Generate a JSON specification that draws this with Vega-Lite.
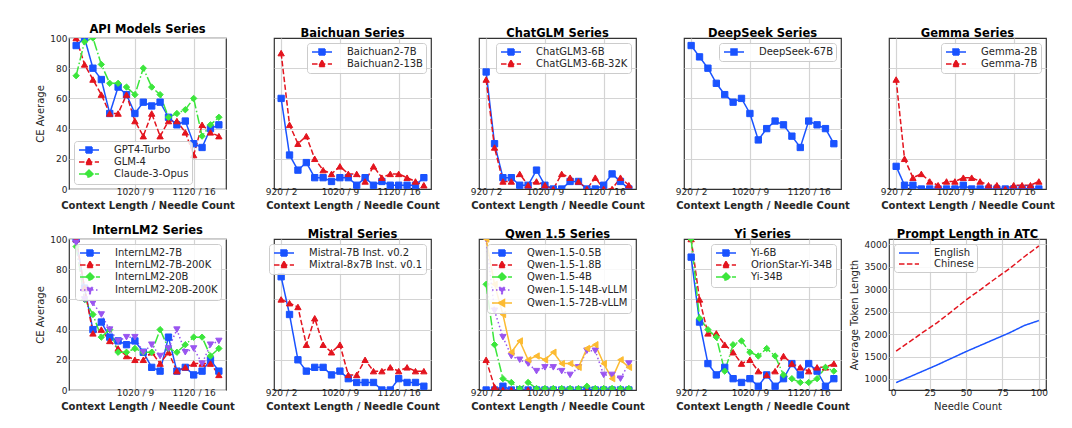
{
  "$schema": "https://vega.github.io/schema/vega-lite/v6.json",
  "padding": {"left": 34, "top": 22, "right": 5, "bottom": 5},
  "background": "white",
  "config": {
    "font": "DejaVu Sans",
    "view": {"stroke": "#333333", "strokeWidth": 1.2},
    "axis": {"domain": false, "ticks": false, "grid": true, "gridColor": "#d4d4d4", "gridWidth": 1.2, "labelFontSize": 9, "labelColor": "#262626", "labelPadding": 2, "labelFlush": false, "labelOverlap": false, "titleFontSize": 10, "titleColor": "#262626", "titleFontWeight": "normal"},
    "axisX": {"titleFontWeight": "bold", "titleFontSize": 10, "labelPadding": -1.5, "titlePadding": 3.5},
    "axisY": {"titlePadding": 4.5},
    "title": {"fontSize": 11.5, "fontWeight": "bold", "offset": -1, "color": "#000000"},
    "legend": {"labelFontSize": 10, "labelColor": "#262626", "padding": 3, "offset": 5, "rowPadding": -1.5, "symbolSize": 100, "symbolOffset": 6, "labelOffset": 19, "fillColor": "rgba(255,255,255,0.85)", "strokeColor": "#cccccc", "cornerRadius": 3}
  },
  "resolve": {"scale": {"stroke": "independent", "strokeDash": "independent"}, "legend": {"stroke": "independent", "strokeDash": "independent"}},
  "datasets": {
    "api": [
      {"s":"GPT4-Turbo","i":0,"v":95},{"s":"GPT4-Turbo","i":1,"v":100},{"s":"GPT4-Turbo","i":2,"v":80},{"s":"GPT4-Turbo","i":3,"v":72.5},{"s":"GPT4-Turbo","i":4,"v":50},{"s":"GPT4-Turbo","i":5,"v":67.5},{"s":"GPT4-Turbo","i":6,"v":62.5},{"s":"GPT4-Turbo","i":7,"v":50},{"s":"GPT4-Turbo","i":8,"v":57.5},{"s":"GPT4-Turbo","i":9,"v":55},{"s":"GPT4-Turbo","i":10,"v":57.5},{"s":"GPT4-Turbo","i":11,"v":47.5},{"s":"GPT4-Turbo","i":12,"v":42.5},{"s":"GPT4-Turbo","i":13,"v":45},{"s":"GPT4-Turbo","i":14,"v":30},{"s":"GPT4-Turbo","i":15,"v":27.5},{"s":"GPT4-Turbo","i":16,"v":40},{"s":"GPT4-Turbo","i":17,"v":42.5},
      {"s":"GLM-4","i":0,"v":100},{"s":"GLM-4","i":1,"v":82.5},{"s":"GLM-4","i":2,"v":72.5},{"s":"GLM-4","i":3,"v":62.5},{"s":"GLM-4","i":4,"v":50},{"s":"GLM-4","i":5,"v":50},{"s":"GLM-4","i":6,"v":62.5},{"s":"GLM-4","i":7,"v":45},{"s":"GLM-4","i":8,"v":35},{"s":"GLM-4","i":9,"v":50},{"s":"GLM-4","i":10,"v":35},{"s":"GLM-4","i":11,"v":45},{"s":"GLM-4","i":12,"v":45},{"s":"GLM-4","i":13,"v":37.5},{"s":"GLM-4","i":14,"v":22.5},{"s":"GLM-4","i":15,"v":42.5},{"s":"GLM-4","i":16,"v":37.5},{"s":"GLM-4","i":17,"v":35},
      {"s":"Claude-3-Opus","i":0,"v":75},{"s":"Claude-3-Opus","i":1,"v":97.5},{"s":"Claude-3-Opus","i":2,"v":100},{"s":"Claude-3-Opus","i":3,"v":82.5},{"s":"Claude-3-Opus","i":4,"v":70},{"s":"Claude-3-Opus","i":5,"v":70},{"s":"Claude-3-Opus","i":6,"v":67.5},{"s":"Claude-3-Opus","i":7,"v":62.5},{"s":"Claude-3-Opus","i":8,"v":80},{"s":"Claude-3-Opus","i":9,"v":67.5},{"s":"Claude-3-Opus","i":10,"v":62.5},{"s":"Claude-3-Opus","i":11,"v":47.5},{"s":"Claude-3-Opus","i":12,"v":50},{"s":"Claude-3-Opus","i":13,"v":52.5},{"s":"Claude-3-Opus","i":14,"v":60},{"s":"Claude-3-Opus","i":15,"v":35},{"s":"Claude-3-Opus","i":16,"v":42.5},{"s":"Claude-3-Opus","i":17,"v":47.5}
    ],
    "baichuan": [
      {"s":"Baichuan2-7B","i":0,"v":60},{"s":"Baichuan2-7B","i":1,"v":22.5},{"s":"Baichuan2-7B","i":2,"v":12.5},{"s":"Baichuan2-7B","i":3,"v":17.5},{"s":"Baichuan2-7B","i":4,"v":7.5},{"s":"Baichuan2-7B","i":5,"v":7.5},{"s":"Baichuan2-7B","i":6,"v":5},{"s":"Baichuan2-7B","i":7,"v":7.5},{"s":"Baichuan2-7B","i":8,"v":7.5},{"s":"Baichuan2-7B","i":9,"v":2.5},{"s":"Baichuan2-7B","i":10,"v":7.5},{"s":"Baichuan2-7B","i":11,"v":2.5},{"s":"Baichuan2-7B","i":12,"v":5},{"s":"Baichuan2-7B","i":13,"v":2.5},{"s":"Baichuan2-7B","i":14,"v":2.5},{"s":"Baichuan2-7B","i":15,"v":2.5},{"s":"Baichuan2-7B","i":16,"v":2.5},{"s":"Baichuan2-7B","i":17,"v":7.5},
      {"s":"Baichuan2-13B","i":0,"v":90},{"s":"Baichuan2-13B","i":1,"v":42.5},{"s":"Baichuan2-13B","i":2,"v":30},{"s":"Baichuan2-13B","i":3,"v":35},{"s":"Baichuan2-13B","i":4,"v":20},{"s":"Baichuan2-13B","i":5,"v":12.5},{"s":"Baichuan2-13B","i":6,"v":10},{"s":"Baichuan2-13B","i":7,"v":15},{"s":"Baichuan2-13B","i":8,"v":10},{"s":"Baichuan2-13B","i":9,"v":10},{"s":"Baichuan2-13B","i":10,"v":5},{"s":"Baichuan2-13B","i":11,"v":15},{"s":"Baichuan2-13B","i":12,"v":7.5},{"s":"Baichuan2-13B","i":13,"v":10},{"s":"Baichuan2-13B","i":14,"v":10},{"s":"Baichuan2-13B","i":15,"v":7.5},{"s":"Baichuan2-13B","i":16,"v":5},{"s":"Baichuan2-13B","i":17,"v":2.5}
    ],
    "chatglm": [
      {"s":"ChatGLM3-6B","i":0,"v":77.5},{"s":"ChatGLM3-6B","i":1,"v":30},{"s":"ChatGLM3-6B","i":2,"v":7.5},{"s":"ChatGLM3-6B","i":3,"v":7.5},{"s":"ChatGLM3-6B","i":4,"v":2.5},{"s":"ChatGLM3-6B","i":5,"v":2.5},{"s":"ChatGLM3-6B","i":6,"v":12.5},{"s":"ChatGLM3-6B","i":7,"v":2.5},{"s":"ChatGLM3-6B","i":8,"v":0},{"s":"ChatGLM3-6B","i":9,"v":0},{"s":"ChatGLM3-6B","i":10,"v":5},{"s":"ChatGLM3-6B","i":11,"v":5},{"s":"ChatGLM3-6B","i":12,"v":0},{"s":"ChatGLM3-6B","i":13,"v":0},{"s":"ChatGLM3-6B","i":14,"v":2.5},{"s":"ChatGLM3-6B","i":15,"v":10},{"s":"ChatGLM3-6B","i":16,"v":5},{"s":"ChatGLM3-6B","i":17,"v":0},
      {"s":"ChatGLM3-6B-32K","i":0,"v":72.5},{"s":"ChatGLM3-6B-32K","i":1,"v":27.5},{"s":"ChatGLM3-6B-32K","i":2,"v":5},{"s":"ChatGLM3-6B-32K","i":3,"v":5},{"s":"ChatGLM3-6B-32K","i":4,"v":10},{"s":"ChatGLM3-6B-32K","i":5,"v":2.5},{"s":"ChatGLM3-6B-32K","i":6,"v":5},{"s":"ChatGLM3-6B-32K","i":7,"v":2.5},{"s":"ChatGLM3-6B-32K","i":8,"v":0},{"s":"ChatGLM3-6B-32K","i":9,"v":10},{"s":"ChatGLM3-6B-32K","i":10,"v":7.5},{"s":"ChatGLM3-6B-32K","i":11,"v":5},{"s":"ChatGLM3-6B-32K","i":12,"v":0},{"s":"ChatGLM3-6B-32K","i":13,"v":7.5},{"s":"ChatGLM3-6B-32K","i":14,"v":0},{"s":"ChatGLM3-6B-32K","i":15,"v":0},{"s":"ChatGLM3-6B-32K","i":16,"v":7.5},{"s":"ChatGLM3-6B-32K","i":17,"v":2.5}
    ],
    "deepseek": [
      {"s":"DeepSeek-67B","i":0,"v":95},{"s":"DeepSeek-67B","i":1,"v":87.5},{"s":"DeepSeek-67B","i":2,"v":80},{"s":"DeepSeek-67B","i":3,"v":70},{"s":"DeepSeek-67B","i":4,"v":62.5},{"s":"DeepSeek-67B","i":5,"v":57.5},{"s":"DeepSeek-67B","i":6,"v":60},{"s":"DeepSeek-67B","i":7,"v":50},{"s":"DeepSeek-67B","i":8,"v":32.5},{"s":"DeepSeek-67B","i":9,"v":40},{"s":"DeepSeek-67B","i":10,"v":45},{"s":"DeepSeek-67B","i":11,"v":42.5},{"s":"DeepSeek-67B","i":12,"v":35},{"s":"DeepSeek-67B","i":13,"v":27.5},{"s":"DeepSeek-67B","i":14,"v":45},{"s":"DeepSeek-67B","i":15,"v":42.5},{"s":"DeepSeek-67B","i":16,"v":40},{"s":"DeepSeek-67B","i":17,"v":30}
    ],
    "gemma": [
      {"s":"Gemma-2B","i":0,"v":15},{"s":"Gemma-2B","i":1,"v":2.5},{"s":"Gemma-2B","i":2,"v":2.5},{"s":"Gemma-2B","i":3,"v":0},{"s":"Gemma-2B","i":4,"v":0},{"s":"Gemma-2B","i":5,"v":0},{"s":"Gemma-2B","i":6,"v":0},{"s":"Gemma-2B","i":7,"v":0},{"s":"Gemma-2B","i":8,"v":2.5},{"s":"Gemma-2B","i":9,"v":0},{"s":"Gemma-2B","i":10,"v":0},{"s":"Gemma-2B","i":11,"v":0},{"s":"Gemma-2B","i":12,"v":0},{"s":"Gemma-2B","i":13,"v":0},{"s":"Gemma-2B","i":14,"v":0},{"s":"Gemma-2B","i":15,"v":0},{"s":"Gemma-2B","i":16,"v":0},{"s":"Gemma-2B","i":17,"v":0},
      {"s":"Gemma-7B","i":0,"v":72.5},{"s":"Gemma-7B","i":1,"v":20},{"s":"Gemma-7B","i":2,"v":7.5},{"s":"Gemma-7B","i":3,"v":10},{"s":"Gemma-7B","i":4,"v":5},{"s":"Gemma-7B","i":5,"v":2.5},{"s":"Gemma-7B","i":6,"v":5},{"s":"Gemma-7B","i":7,"v":5},{"s":"Gemma-7B","i":8,"v":7.5},{"s":"Gemma-7B","i":9,"v":7.5},{"s":"Gemma-7B","i":10,"v":5},{"s":"Gemma-7B","i":11,"v":2.5},{"s":"Gemma-7B","i":12,"v":2.5},{"s":"Gemma-7B","i":13,"v":0},{"s":"Gemma-7B","i":14,"v":2.5},{"s":"Gemma-7B","i":15,"v":2.5},{"s":"Gemma-7B","i":16,"v":2.5},{"s":"Gemma-7B","i":17,"v":5}
    ],
    "intern": [
      {"s":"InternLM2-7B","i":0,"v":100},{"s":"InternLM2-7B","i":1,"v":67.5},{"s":"InternLM2-7B","i":2,"v":40},{"s":"InternLM2-7B","i":3,"v":45},{"s":"InternLM2-7B","i":4,"v":35},{"s":"InternLM2-7B","i":5,"v":32.5},{"s":"InternLM2-7B","i":6,"v":30},{"s":"InternLM2-7B","i":7,"v":32.5},{"s":"InternLM2-7B","i":8,"v":25},{"s":"InternLM2-7B","i":9,"v":15},{"s":"InternLM2-7B","i":10,"v":12.5},{"s":"InternLM2-7B","i":11,"v":35},{"s":"InternLM2-7B","i":12,"v":12.5},{"s":"InternLM2-7B","i":13,"v":15},{"s":"InternLM2-7B","i":14,"v":10},{"s":"InternLM2-7B","i":15,"v":12.5},{"s":"InternLM2-7B","i":16,"v":20},{"s":"InternLM2-7B","i":17,"v":12.5},
      {"s":"InternLM2-7B-200K","i":0,"v":100},{"s":"InternLM2-7B-200K","i":1,"v":67.5},{"s":"InternLM2-7B-200K","i":2,"v":37.5},{"s":"InternLM2-7B-200K","i":3,"v":40},{"s":"InternLM2-7B-200K","i":4,"v":32.5},{"s":"InternLM2-7B-200K","i":5,"v":27.5},{"s":"InternLM2-7B-200K","i":6,"v":22.5},{"s":"InternLM2-7B-200K","i":7,"v":20},{"s":"InternLM2-7B-200K","i":8,"v":20},{"s":"InternLM2-7B-200K","i":9,"v":25},{"s":"InternLM2-7B-200K","i":10,"v":17.5},{"s":"InternLM2-7B-200K","i":11,"v":25},{"s":"InternLM2-7B-200K","i":12,"v":12.5},{"s":"InternLM2-7B-200K","i":13,"v":15},{"s":"InternLM2-7B-200K","i":14,"v":17.5},{"s":"InternLM2-7B-200K","i":15,"v":17.5},{"s":"InternLM2-7B-200K","i":16,"v":17.5},{"s":"InternLM2-7B-200K","i":17,"v":10},
      {"s":"InternLM2-20B","i":0,"v":95},{"s":"InternLM2-20B","i":1,"v":60},{"s":"InternLM2-20B","i":2,"v":50},{"s":"InternLM2-20B","i":3,"v":35},{"s":"InternLM2-20B","i":4,"v":40},{"s":"InternLM2-20B","i":5,"v":25},{"s":"InternLM2-20B","i":6,"v":25},{"s":"InternLM2-20B","i":7,"v":27.5},{"s":"InternLM2-20B","i":8,"v":25},{"s":"InternLM2-20B","i":9,"v":25},{"s":"InternLM2-20B","i":10,"v":40},{"s":"InternLM2-20B","i":11,"v":27.5},{"s":"InternLM2-20B","i":12,"v":25},{"s":"InternLM2-20B","i":13,"v":30},{"s":"InternLM2-20B","i":14,"v":35},{"s":"InternLM2-20B","i":15,"v":35},{"s":"InternLM2-20B","i":16,"v":22.5},{"s":"InternLM2-20B","i":17,"v":27.5},
      {"s":"InternLM2-20B-200K","i":0,"v":97.5},{"s":"InternLM2-20B-200K","i":1,"v":60},{"s":"InternLM2-20B-200K","i":2,"v":57.5},{"s":"InternLM2-20B-200K","i":3,"v":50},{"s":"InternLM2-20B-200K","i":4,"v":40},{"s":"InternLM2-20B-200K","i":5,"v":32.5},{"s":"InternLM2-20B-200K","i":6,"v":35},{"s":"InternLM2-20B-200K","i":7,"v":35},{"s":"InternLM2-20B-200K","i":8,"v":25},{"s":"InternLM2-20B-200K","i":9,"v":30},{"s":"InternLM2-20B-200K","i":10,"v":22.5},{"s":"InternLM2-20B-200K","i":11,"v":27.5},{"s":"InternLM2-20B-200K","i":12,"v":40},{"s":"InternLM2-20B-200K","i":13,"v":25},{"s":"InternLM2-20B-200K","i":14,"v":27.5},{"s":"InternLM2-20B-200K","i":15,"v":17.5},{"s":"InternLM2-20B-200K","i":16,"v":30},{"s":"InternLM2-20B-200K","i":17,"v":32.5}
    ],
    "mistral": [
      {"s":"Mistral-7B Inst. v0.2","i":0,"v":75},{"s":"Mistral-7B Inst. v0.2","i":1,"v":50},{"s":"Mistral-7B Inst. v0.2","i":2,"v":20},{"s":"Mistral-7B Inst. v0.2","i":3,"v":12.5},{"s":"Mistral-7B Inst. v0.2","i":4,"v":15},{"s":"Mistral-7B Inst. v0.2","i":5,"v":15},{"s":"Mistral-7B Inst. v0.2","i":6,"v":10},{"s":"Mistral-7B Inst. v0.2","i":7,"v":12.5},{"s":"Mistral-7B Inst. v0.2","i":8,"v":7.5},{"s":"Mistral-7B Inst. v0.2","i":9,"v":5},{"s":"Mistral-7B Inst. v0.2","i":10,"v":5},{"s":"Mistral-7B Inst. v0.2","i":11,"v":5},{"s":"Mistral-7B Inst. v0.2","i":12,"v":0},{"s":"Mistral-7B Inst. v0.2","i":13,"v":0},{"s":"Mistral-7B Inst. v0.2","i":14,"v":7.5},{"s":"Mistral-7B Inst. v0.2","i":15,"v":5},{"s":"Mistral-7B Inst. v0.2","i":16,"v":5},{"s":"Mistral-7B Inst. v0.2","i":17,"v":2.5},
      {"s":"Mixtral-8x7B Inst. v0.1","i":0,"v":60},{"s":"Mixtral-8x7B Inst. v0.1","i":1,"v":57.5},{"s":"Mixtral-8x7B Inst. v0.1","i":2,"v":55},{"s":"Mixtral-8x7B Inst. v0.1","i":3,"v":30},{"s":"Mixtral-8x7B Inst. v0.1","i":4,"v":47.5},{"s":"Mixtral-8x7B Inst. v0.1","i":5,"v":30},{"s":"Mixtral-8x7B Inst. v0.1","i":6,"v":25},{"s":"Mixtral-8x7B Inst. v0.1","i":7,"v":30},{"s":"Mixtral-8x7B Inst. v0.1","i":8,"v":10},{"s":"Mixtral-8x7B Inst. v0.1","i":9,"v":10},{"s":"Mixtral-8x7B Inst. v0.1","i":10,"v":20},{"s":"Mixtral-8x7B Inst. v0.1","i":11,"v":12.5},{"s":"Mixtral-8x7B Inst. v0.1","i":12,"v":12.5},{"s":"Mixtral-8x7B Inst. v0.1","i":13,"v":15},{"s":"Mixtral-8x7B Inst. v0.1","i":14,"v":12.5},{"s":"Mixtral-8x7B Inst. v0.1","i":15,"v":15},{"s":"Mixtral-8x7B Inst. v0.1","i":16,"v":12.5},{"s":"Mixtral-8x7B Inst. v0.1","i":17,"v":12.5}
    ],
    "qwen": [
      {"s":"Qwen-1.5-0.5B","i":0,"v":0},{"s":"Qwen-1.5-0.5B","i":1,"v":0},{"s":"Qwen-1.5-0.5B","i":2,"v":2.5},{"s":"Qwen-1.5-0.5B","i":3,"v":0},{"s":"Qwen-1.5-0.5B","i":4,"v":0},{"s":"Qwen-1.5-0.5B","i":5,"v":0},{"s":"Qwen-1.5-0.5B","i":6,"v":0},{"s":"Qwen-1.5-0.5B","i":7,"v":0},{"s":"Qwen-1.5-0.5B","i":8,"v":0},{"s":"Qwen-1.5-0.5B","i":9,"v":0},{"s":"Qwen-1.5-0.5B","i":10,"v":0},{"s":"Qwen-1.5-0.5B","i":11,"v":0},{"s":"Qwen-1.5-0.5B","i":12,"v":0},{"s":"Qwen-1.5-0.5B","i":13,"v":0},{"s":"Qwen-1.5-0.5B","i":14,"v":0},{"s":"Qwen-1.5-0.5B","i":15,"v":0},{"s":"Qwen-1.5-0.5B","i":16,"v":0},{"s":"Qwen-1.5-0.5B","i":17,"v":0},
      {"s":"Qwen-1.5-1.8B","i":0,"v":20},{"s":"Qwen-1.5-1.8B","i":1,"v":2},{"s":"Qwen-1.5-1.8B","i":2,"v":0},{"s":"Qwen-1.5-1.8B","i":3,"v":0},{"s":"Qwen-1.5-1.8B","i":4,"v":0},{"s":"Qwen-1.5-1.8B","i":5,"v":0},{"s":"Qwen-1.5-1.8B","i":6,"v":0},{"s":"Qwen-1.5-1.8B","i":7,"v":0},{"s":"Qwen-1.5-1.8B","i":8,"v":0},{"s":"Qwen-1.5-1.8B","i":9,"v":0},{"s":"Qwen-1.5-1.8B","i":10,"v":0},{"s":"Qwen-1.5-1.8B","i":11,"v":0},{"s":"Qwen-1.5-1.8B","i":12,"v":0},{"s":"Qwen-1.5-1.8B","i":13,"v":0},{"s":"Qwen-1.5-1.8B","i":14,"v":0},{"s":"Qwen-1.5-1.8B","i":15,"v":0},{"s":"Qwen-1.5-1.8B","i":16,"v":0},{"s":"Qwen-1.5-1.8B","i":17,"v":0},
      {"s":"Qwen-1.5-4B","i":0,"v":70},{"s":"Qwen-1.5-4B","i":1,"v":30},{"s":"Qwen-1.5-4B","i":2,"v":7.5},{"s":"Qwen-1.5-4B","i":3,"v":5},{"s":"Qwen-1.5-4B","i":4,"v":1},{"s":"Qwen-1.5-4B","i":5,"v":5},{"s":"Qwen-1.5-4B","i":6,"v":1},{"s":"Qwen-1.5-4B","i":7,"v":1},{"s":"Qwen-1.5-4B","i":8,"v":1},{"s":"Qwen-1.5-4B","i":9,"v":1},{"s":"Qwen-1.5-4B","i":10,"v":1},{"s":"Qwen-1.5-4B","i":11,"v":1},{"s":"Qwen-1.5-4B","i":12,"v":2.5},{"s":"Qwen-1.5-4B","i":13,"v":1},{"s":"Qwen-1.5-4B","i":14,"v":1},{"s":"Qwen-1.5-4B","i":15,"v":1},{"s":"Qwen-1.5-4B","i":16,"v":1},{"s":"Qwen-1.5-4B","i":17,"v":1},
      {"s":"Qwen-1.5-14B-vLLM","i":0,"v":100},{"s":"Qwen-1.5-14B-vLLM","i":1,"v":52.5},{"s":"Qwen-1.5-14B-vLLM","i":2,"v":35},{"s":"Qwen-1.5-14B-vLLM","i":3,"v":22.5},{"s":"Qwen-1.5-14B-vLLM","i":4,"v":20},{"s":"Qwen-1.5-14B-vLLM","i":5,"v":17.5},{"s":"Qwen-1.5-14B-vLLM","i":6,"v":12.5},{"s":"Qwen-1.5-14B-vLLM","i":7,"v":15},{"s":"Qwen-1.5-14B-vLLM","i":8,"v":15},{"s":"Qwen-1.5-14B-vLLM","i":9,"v":12.5},{"s":"Qwen-1.5-14B-vLLM","i":10,"v":10},{"s":"Qwen-1.5-14B-vLLM","i":11,"v":15},{"s":"Qwen-1.5-14B-vLLM","i":12,"v":26},{"s":"Qwen-1.5-14B-vLLM","i":13,"v":26},{"s":"Qwen-1.5-14B-vLLM","i":14,"v":10},{"s":"Qwen-1.5-14B-vLLM","i":15,"v":10},{"s":"Qwen-1.5-14B-vLLM","i":16,"v":7.5},{"s":"Qwen-1.5-14B-vLLM","i":17,"v":17.5},
      {"s":"Qwen-1.5-72B-vLLM","i":0,"v":100},{"s":"Qwen-1.5-72B-vLLM","i":1,"v":70},{"s":"Qwen-1.5-72B-vLLM","i":2,"v":50},{"s":"Qwen-1.5-72B-vLLM","i":3,"v":25},{"s":"Qwen-1.5-72B-vLLM","i":4,"v":32.5},{"s":"Qwen-1.5-72B-vLLM","i":5,"v":20},{"s":"Qwen-1.5-72B-vLLM","i":6,"v":22.5},{"s":"Qwen-1.5-72B-vLLM","i":7,"v":20},{"s":"Qwen-1.5-72B-vLLM","i":8,"v":25},{"s":"Qwen-1.5-72B-vLLM","i":9,"v":17.5},{"s":"Qwen-1.5-72B-vLLM","i":10,"v":17.5},{"s":"Qwen-1.5-72B-vLLM","i":11,"v":15},{"s":"Qwen-1.5-72B-vLLM","i":12,"v":27.5},{"s":"Qwen-1.5-72B-vLLM","i":13,"v":30},{"s":"Qwen-1.5-72B-vLLM","i":14,"v":17.5},{"s":"Qwen-1.5-72B-vLLM","i":15,"v":7.5},{"s":"Qwen-1.5-72B-vLLM","i":16,"v":20},{"s":"Qwen-1.5-72B-vLLM","i":17,"v":15}
    ],
    "yi": [
      {"s":"Yi-6B","i":0,"v":88},{"s":"Yi-6B","i":1,"v":45},{"s":"Yi-6B","i":2,"v":17.5},{"s":"Yi-6B","i":3,"v":10},{"s":"Yi-6B","i":4,"v":15},{"s":"Yi-6B","i":5,"v":7.5},{"s":"Yi-6B","i":6,"v":5},{"s":"Yi-6B","i":7,"v":7.5},{"s":"Yi-6B","i":8,"v":2.5},{"s":"Yi-6B","i":9,"v":10},{"s":"Yi-6B","i":10,"v":2.5},{"s":"Yi-6B","i":11,"v":7.5},{"s":"Yi-6B","i":12,"v":17.5},{"s":"Yi-6B","i":13,"v":10},{"s":"Yi-6B","i":14,"v":17.5},{"s":"Yi-6B","i":15,"v":12.5},{"s":"Yi-6B","i":16,"v":2.5},{"s":"Yi-6B","i":17,"v":7.5},
      {"s":"OrionStar-Yi-34B","i":0,"v":100},{"s":"OrionStar-Yi-34B","i":1,"v":60},{"s":"OrionStar-Yi-34B","i":2,"v":37.5},{"s":"OrionStar-Yi-34B","i":3,"v":37.5},{"s":"OrionStar-Yi-34B","i":4,"v":30},{"s":"OrionStar-Yi-34B","i":5,"v":25},{"s":"OrionStar-Yi-34B","i":6,"v":17.5},{"s":"OrionStar-Yi-34B","i":7,"v":20},{"s":"OrionStar-Yi-34B","i":8,"v":12.5},{"s":"OrionStar-Yi-34B","i":9,"v":10},{"s":"OrionStar-Yi-34B","i":10,"v":12.5},{"s":"OrionStar-Yi-34B","i":11,"v":22.5},{"s":"OrionStar-Yi-34B","i":12,"v":17.5},{"s":"OrionStar-Yi-34B","i":13,"v":15},{"s":"OrionStar-Yi-34B","i":14,"v":12.5},{"s":"OrionStar-Yi-34B","i":15,"v":15},{"s":"OrionStar-Yi-34B","i":16,"v":15},{"s":"OrionStar-Yi-34B","i":17,"v":17.5},
      {"s":"Yi-34B","i":0,"v":100},{"s":"Yi-34B","i":1,"v":47.5},{"s":"Yi-34B","i":2,"v":40},{"s":"Yi-34B","i":3,"v":35},{"s":"Yi-34B","i":4,"v":12.5},{"s":"Yi-34B","i":5,"v":30},{"s":"Yi-34B","i":6,"v":32.5},{"s":"Yi-34B","i":7,"v":25},{"s":"Yi-34B","i":8,"v":22.5},{"s":"Yi-34B","i":9,"v":27.5},{"s":"Yi-34B","i":10,"v":22.5},{"s":"Yi-34B","i":11,"v":10},{"s":"Yi-34B","i":12,"v":7.5},{"s":"Yi-34B","i":13,"v":5},{"s":"Yi-34B","i":14,"v":5},{"s":"Yi-34B","i":15,"v":7.5},{"s":"Yi-34B","i":16,"v":15},{"s":"Yi-34B","i":17,"v":12.5}
    ],
    "prompt": [
      {"s":"English","n":2,"t":920},{"s":"English","n":10,"t":1030},{"s":"English","n":20,"t":1170},{"s":"English","n":30,"t":1310},{"s":"English","n":40,"t":1460},{"s":"English","n":50,"t":1610},{"s":"English","n":60,"t":1750},{"s":"English","n":70,"t":1890},{"s":"English","n":80,"t":2030},{"s":"English","n":90,"t":2190},{"s":"English","n":100,"t":2300},
      {"s":"Chinese","n":2,"t":1620},{"s":"Chinese","n":10,"t":1800},{"s":"Chinese","n":20,"t":2030},{"s":"Chinese","n":30,"t":2250},{"s":"Chinese","n":40,"t":2500},{"s":"Chinese","n":50,"t":2760},{"s":"Chinese","n":60,"t":2990},{"s":"Chinese","n":70,"t":3230},{"s":"Chinese","n":80,"t":3460},{"s":"Chinese","n":90,"t":3720},{"s":"Chinese","n":100,"t":3960}
    ]
  },
  "columns": 5,
  "bounds": "flush",
  "spacing": {"row": 50, "column": 48},
  "concat": [
    {
      "title": "API Models Series", "width": 157, "height": 151, "data": {"name": "api"},
      "encoding": {
        "x": {"field": "i", "type": "quantitative", "scale": {"domain": [-0.85, 17.85], "nice": false, "zero": false}, "axis": {"values": [7, 14], "labelExpr": "datum.value == 0 ? '920 / 2' : datum.value == 7 ? '1020 / 9' : '1120 / 16'", "title": "Context Length / Needle Count"}},
        "y": {"field": "v", "type": "quantitative", "scale": {"domain": [0, 100], "nice": false}, "axis": {"values": [0, 20, 40, 60, 80, 100], "title": "CE Average"}}
      },
      "layer": [
        {"mark": {"type": "line", "strokeWidth": 1.5, "clip": true},
         "encoding": {
           "stroke": {"field": "s", "type": "nominal", "scale": {"domain": ["GPT4-Turbo", "GLM-4", "Claude-3-Opus"], "range": ["#1a53ff", "#e3141e", "#3ce63c"]},
             "legend": {"orient": "bottom-left", "title": null, "encode": {"symbols": {"update": {
               "shape": {"signal": "['M-2,0H2M-0.6,-0.6H0.6V0.6H-0.6Z','M-2,0H2M0,-0.75L0.7,0.5H-0.7Z','M-2,0H2M0,-0.8L0.8,0L0,0.8L-0.8,0Z','M-2,0H2M0,0.75L0.7,-0.5H-0.7Z','M-2,0H2M-0.75,0L0.5,-0.7V0.7Z'][datum.index]"},
               "fill": {"signal": "['#1a53ff','#e3141e','#3ce63c','#9a55f0','#fcbb32'][datum.index]"},
               "stroke": {"signal": "['#1a53ff','#e3141e','#3ce63c','#9a55f0','#fcbb32'][datum.index]"},
               "strokeDash": {"signal": "[[1,0],[4,2],[6,1.6,1,1.6],[1.2,1.8],[1,0]][datum.index]"},
               "strokeWidth": {"value": 1.5}, "opacity": {"value": 1}}}}}},
           "strokeDash": {"field": "s", "type": "nominal", "scale": {"domain": ["GPT4-Turbo", "GLM-4", "Claude-3-Opus"], "range": [[1, 0], [5.5, 2.4], [9.6, 2.4, 1.5, 2.4]]}}
         }},
        {"transform": [{"filter": "datum.s == 'GPT4-Turbo'"}], "mark": {"type": "point", "shape": "square", "filled": true, "color": "#1a53ff", "stroke": "#1a53ff", "size": 40, "opacity": 1, "strokeWidth": 1, "clip": true}},
        {"transform": [{"filter": "datum.s == 'GLM-4'"}], "mark": {"type": "point", "shape": "triangle-up", "filled": true, "color": "#e3141e", "stroke": "#e3141e", "size": 40, "opacity": 1, "strokeWidth": 1, "clip": true}},
        {"transform": [{"filter": "datum.s == 'Claude-3-Opus'"}], "mark": {"type": "point", "shape": "diamond", "filled": true, "color": "#3ce63c", "stroke": "#3ce63c", "size": 40, "opacity": 1, "strokeWidth": 1, "clip": true}}
      ]
    },
    {
      "title": "Baichuan Series", "width": 157, "height": 151, "data": {"name": "baichuan"},
      "encoding": {
        "x": {"field": "i", "type": "quantitative", "scale": {"domain": [-0.85, 17.85], "nice": false, "zero": false}, "axis": {"values": [0, 7, 14], "labelExpr": "datum.value == 0 ? '920 / 2' : datum.value == 7 ? '1020 / 9' : '1120 / 16'", "title": "Context Length / Needle Count"}},
        "y": {"field": "v", "type": "quantitative", "scale": {"domain": [0, 100], "nice": false}, "axis": {"values": [20, 40, 60, 80], "labels": false, "title": null}}
      },
      "layer": [
        {"mark": {"type": "line", "strokeWidth": 1.5, "clip": true},
         "encoding": {
           "stroke": {"field": "s", "type": "nominal", "scale": {"domain": ["Baichuan2-7B", "Baichuan2-13B"], "range": ["#1a53ff", "#e3141e"]},
             "legend": {"orient": "top-right", "title": null, "encode": {"symbols": {"update": {
               "shape": {"signal": "['M-2,0H2M-0.6,-0.6H0.6V0.6H-0.6Z','M-2,0H2M0,-0.75L0.7,0.5H-0.7Z','M-2,0H2M0,-0.8L0.8,0L0,0.8L-0.8,0Z','M-2,0H2M0,0.75L0.7,-0.5H-0.7Z','M-2,0H2M-0.75,0L0.5,-0.7V0.7Z'][datum.index]"},
               "fill": {"signal": "['#1a53ff','#e3141e','#3ce63c','#9a55f0','#fcbb32'][datum.index]"},
               "stroke": {"signal": "['#1a53ff','#e3141e','#3ce63c','#9a55f0','#fcbb32'][datum.index]"},
               "strokeDash": {"signal": "[[1,0],[4,2],[6,1.6,1,1.6],[1.2,1.8],[1,0]][datum.index]"},
               "strokeWidth": {"value": 1.5}, "opacity": {"value": 1}}}}}},
           "strokeDash": {"field": "s", "type": "nominal", "scale": {"domain": ["Baichuan2-7B", "Baichuan2-13B"], "range": [[1, 0], [5.5, 2.4]]}}
         }},
        {"transform": [{"filter": "datum.s == 'Baichuan2-7B'"}], "mark": {"type": "point", "shape": "square", "filled": true, "color": "#1a53ff", "stroke": "#1a53ff", "size": 40, "opacity": 1, "strokeWidth": 1, "clip": true}},
        {"transform": [{"filter": "datum.s == 'Baichuan2-13B'"}], "mark": {"type": "point", "shape": "triangle-up", "filled": true, "color": "#e3141e", "stroke": "#e3141e", "size": 40, "opacity": 1, "strokeWidth": 1, "clip": true}}
      ]
    },
    {
      "title": "ChatGLM Series", "width": 157, "height": 151, "data": {"name": "chatglm"},
      "encoding": {
        "x": {"field": "i", "type": "quantitative", "scale": {"domain": [-0.85, 17.85], "nice": false, "zero": false}, "axis": {"values": [0, 7, 14], "labelExpr": "datum.value == 0 ? '920 / 2' : datum.value == 7 ? '1020 / 9' : '1120 / 16'", "title": "Context Length / Needle Count"}},
        "y": {"field": "v", "type": "quantitative", "scale": {"domain": [0, 100], "nice": false}, "axis": {"values": [20, 40, 60, 80], "labels": false, "title": null}}
      },
      "layer": [
        {"mark": {"type": "line", "strokeWidth": 1.5, "clip": true},
         "encoding": {
           "stroke": {"field": "s", "type": "nominal", "scale": {"domain": ["ChatGLM3-6B", "ChatGLM3-6B-32K"], "range": ["#1a53ff", "#e3141e"]},
             "legend": {"orient": "top-right", "title": null, "encode": {"symbols": {"update": {
               "shape": {"signal": "['M-2,0H2M-0.6,-0.6H0.6V0.6H-0.6Z','M-2,0H2M0,-0.75L0.7,0.5H-0.7Z','M-2,0H2M0,-0.8L0.8,0L0,0.8L-0.8,0Z','M-2,0H2M0,0.75L0.7,-0.5H-0.7Z','M-2,0H2M-0.75,0L0.5,-0.7V0.7Z'][datum.index]"},
               "fill": {"signal": "['#1a53ff','#e3141e','#3ce63c','#9a55f0','#fcbb32'][datum.index]"},
               "stroke": {"signal": "['#1a53ff','#e3141e','#3ce63c','#9a55f0','#fcbb32'][datum.index]"},
               "strokeDash": {"signal": "[[1,0],[4,2],[6,1.6,1,1.6],[1.2,1.8],[1,0]][datum.index]"},
               "strokeWidth": {"value": 1.5}, "opacity": {"value": 1}}}}}},
           "strokeDash": {"field": "s", "type": "nominal", "scale": {"domain": ["ChatGLM3-6B", "ChatGLM3-6B-32K"], "range": [[1, 0], [5.5, 2.4]]}}
         }},
        {"transform": [{"filter": "datum.s == 'ChatGLM3-6B'"}], "mark": {"type": "point", "shape": "square", "filled": true, "color": "#1a53ff", "stroke": "#1a53ff", "size": 40, "opacity": 1, "strokeWidth": 1, "clip": true}},
        {"transform": [{"filter": "datum.s == 'ChatGLM3-6B-32K'"}], "mark": {"type": "point", "shape": "triangle-up", "filled": true, "color": "#e3141e", "stroke": "#e3141e", "size": 40, "opacity": 1, "strokeWidth": 1, "clip": true}}
      ]
    },
    {
      "title": "DeepSeek Series", "width": 157, "height": 151, "data": {"name": "deepseek"},
      "encoding": {
        "x": {"field": "i", "type": "quantitative", "scale": {"domain": [-0.85, 17.85], "nice": false, "zero": false}, "axis": {"values": [0, 7, 14], "labelExpr": "datum.value == 0 ? '920 / 2' : datum.value == 7 ? '1020 / 9' : '1120 / 16'", "title": "Context Length / Needle Count"}},
        "y": {"field": "v", "type": "quantitative", "scale": {"domain": [0, 100], "nice": false}, "axis": {"values": [20, 40, 60, 80], "labels": false, "title": null}}
      },
      "layer": [
        {"mark": {"type": "line", "strokeWidth": 1.5, "clip": true},
         "encoding": {
           "stroke": {"field": "s", "type": "nominal", "scale": {"domain": ["DeepSeek-67B"], "range": ["#1a53ff"]},
             "legend": {"orient": "top-right", "title": null, "encode": {"symbols": {"update": {
               "shape": {"signal": "['M-2,0H2M-0.6,-0.6H0.6V0.6H-0.6Z','M-2,0H2M0,-0.75L0.7,0.5H-0.7Z'][datum.index]"},
               "fill": {"signal": "['#1a53ff','#e3141e'][datum.index]"},
               "stroke": {"signal": "['#1a53ff','#e3141e'][datum.index]"},
               "strokeWidth": {"value": 1.5}, "opacity": {"value": 1}}}}}}
         }},
        {"transform": [{"filter": "datum.s == 'DeepSeek-67B'"}], "mark": {"type": "point", "shape": "square", "filled": true, "color": "#1a53ff", "stroke": "#1a53ff", "size": 40, "opacity": 1, "strokeWidth": 1, "clip": true}}
      ]
    },
    {
      "title": "Gemma Series", "width": 157, "height": 151, "data": {"name": "gemma"},
      "encoding": {
        "x": {"field": "i", "type": "quantitative", "scale": {"domain": [-0.85, 17.85], "nice": false, "zero": false}, "axis": {"values": [0, 7, 14], "labelExpr": "datum.value == 0 ? '920 / 2' : datum.value == 7 ? '1020 / 9' : '1120 / 16'", "title": "Context Length / Needle Count"}},
        "y": {"field": "v", "type": "quantitative", "scale": {"domain": [0, 100], "nice": false}, "axis": {"values": [20, 40, 60, 80], "labels": false, "title": null}}
      },
      "layer": [
        {"mark": {"type": "line", "strokeWidth": 1.5, "clip": true},
         "encoding": {
           "stroke": {"field": "s", "type": "nominal", "scale": {"domain": ["Gemma-2B", "Gemma-7B"], "range": ["#1a53ff", "#e3141e"]},
             "legend": {"orient": "top-right", "title": null, "encode": {"symbols": {"update": {
               "shape": {"signal": "['M-2,0H2M-0.6,-0.6H0.6V0.6H-0.6Z','M-2,0H2M0,-0.75L0.7,0.5H-0.7Z','M-2,0H2M0,-0.8L0.8,0L0,0.8L-0.8,0Z','M-2,0H2M0,0.75L0.7,-0.5H-0.7Z','M-2,0H2M-0.75,0L0.5,-0.7V0.7Z'][datum.index]"},
               "fill": {"signal": "['#1a53ff','#e3141e','#3ce63c','#9a55f0','#fcbb32'][datum.index]"},
               "stroke": {"signal": "['#1a53ff','#e3141e','#3ce63c','#9a55f0','#fcbb32'][datum.index]"},
               "strokeDash": {"signal": "[[1,0],[4,2],[6,1.6,1,1.6],[1.2,1.8],[1,0]][datum.index]"},
               "strokeWidth": {"value": 1.5}, "opacity": {"value": 1}}}}}},
           "strokeDash": {"field": "s", "type": "nominal", "scale": {"domain": ["Gemma-2B", "Gemma-7B"], "range": [[1, 0], [5.5, 2.4]]}}
         }},
        {"transform": [{"filter": "datum.s == 'Gemma-2B'"}], "mark": {"type": "point", "shape": "square", "filled": true, "color": "#1a53ff", "stroke": "#1a53ff", "size": 40, "opacity": 1, "strokeWidth": 1, "clip": true}},
        {"transform": [{"filter": "datum.s == 'Gemma-7B'"}], "mark": {"type": "point", "shape": "triangle-up", "filled": true, "color": "#e3141e", "stroke": "#e3141e", "size": 40, "opacity": 1, "strokeWidth": 1, "clip": true}}
      ]
    },
    {
      "title": "InternLM2 Series", "width": 157, "height": 151, "data": {"name": "intern"},
      "encoding": {
        "x": {"field": "i", "type": "quantitative", "scale": {"domain": [-0.85, 17.85], "nice": false, "zero": false}, "axis": {"values": [7, 14], "labelExpr": "datum.value == 0 ? '920 / 2' : datum.value == 7 ? '1020 / 9' : '1120 / 16'", "title": "Context Length / Needle Count"}},
        "y": {"field": "v", "type": "quantitative", "scale": {"domain": [0, 100], "nice": false}, "axis": {"values": [0, 20, 40, 60, 80, 100], "title": "CE Average"}}
      },
      "layer": [
        {"mark": {"type": "line", "strokeWidth": 1.5, "clip": true},
         "encoding": {
           "stroke": {"field": "s", "type": "nominal", "scale": {"domain": ["InternLM2-7B", "InternLM2-7B-200K", "InternLM2-20B", "InternLM2-20B-200K"], "range": ["#1a53ff", "#e3141e", "#3ce63c", "#9a55f0"]},
             "legend": {"orient": "top-right", "title": null, "encode": {"symbols": {"update": {
               "shape": {"signal": "['M-2,0H2M-0.6,-0.6H0.6V0.6H-0.6Z','M-2,0H2M0,-0.75L0.7,0.5H-0.7Z','M-2,0H2M0,-0.8L0.8,0L0,0.8L-0.8,0Z','M-2,0H2M0,0.75L0.7,-0.5H-0.7Z','M-2,0H2M-0.75,0L0.5,-0.7V0.7Z'][datum.index]"},
               "fill": {"signal": "['#1a53ff','#e3141e','#3ce63c','#9a55f0','#fcbb32'][datum.index]"},
               "stroke": {"signal": "['#1a53ff','#e3141e','#3ce63c','#9a55f0','#fcbb32'][datum.index]"},
               "strokeDash": {"signal": "[[1,0],[4,2],[6,1.6,1,1.6],[1.2,1.8],[1,0]][datum.index]"},
               "strokeWidth": {"value": 1.5}, "opacity": {"value": 1}}}}}},
           "strokeDash": {"field": "s", "type": "nominal", "scale": {"domain": ["InternLM2-7B", "InternLM2-7B-200K", "InternLM2-20B", "InternLM2-20B-200K"], "range": [[1, 0], [5.5, 2.4], [9.6, 2.4, 1.5, 2.4], [1.5, 2.5]]}}
         }},
        {"transform": [{"filter": "datum.s == 'InternLM2-7B'"}], "mark": {"type": "point", "shape": "square", "filled": true, "color": "#1a53ff", "stroke": "#1a53ff", "size": 40, "opacity": 1, "strokeWidth": 1, "clip": true}},
        {"transform": [{"filter": "datum.s == 'InternLM2-7B-200K'"}], "mark": {"type": "point", "shape": "triangle-up", "filled": true, "color": "#e3141e", "stroke": "#e3141e", "size": 40, "opacity": 1, "strokeWidth": 1, "clip": true}},
        {"transform": [{"filter": "datum.s == 'InternLM2-20B'"}], "mark": {"type": "point", "shape": "diamond", "filled": true, "color": "#3ce63c", "stroke": "#3ce63c", "size": 40, "opacity": 1, "strokeWidth": 1, "clip": true}},
        {"transform": [{"filter": "datum.s == 'InternLM2-20B-200K'"}], "mark": {"type": "point", "shape": "triangle-down", "filled": true, "color": "#9a55f0", "stroke": "#9a55f0", "size": 40, "opacity": 1, "strokeWidth": 1, "clip": true}}
      ]
    },
    {
      "title": "Mistral Series", "width": 157, "height": 151, "data": {"name": "mistral"},
      "encoding": {
        "x": {"field": "i", "type": "quantitative", "scale": {"domain": [-0.85, 17.85], "nice": false, "zero": false}, "axis": {"values": [0, 7, 14], "labelExpr": "datum.value == 0 ? '920 / 2' : datum.value == 7 ? '1020 / 9' : '1120 / 16'", "title": "Context Length / Needle Count"}},
        "y": {"field": "v", "type": "quantitative", "scale": {"domain": [0, 100], "nice": false}, "axis": {"values": [20, 40, 60, 80], "labels": false, "title": null}}
      },
      "layer": [
        {"mark": {"type": "line", "strokeWidth": 1.5, "clip": true},
         "encoding": {
           "stroke": {"field": "s", "type": "nominal", "scale": {"domain": ["Mistral-7B Inst. v0.2", "Mixtral-8x7B Inst. v0.1"], "range": ["#1a53ff", "#e3141e"]},
             "legend": {"orient": "top-right", "title": null, "encode": {"symbols": {"update": {
               "shape": {"signal": "['M-2,0H2M-0.6,-0.6H0.6V0.6H-0.6Z','M-2,0H2M0,-0.75L0.7,0.5H-0.7Z','M-2,0H2M0,-0.8L0.8,0L0,0.8L-0.8,0Z','M-2,0H2M0,0.75L0.7,-0.5H-0.7Z','M-2,0H2M-0.75,0L0.5,-0.7V0.7Z'][datum.index]"},
               "fill": {"signal": "['#1a53ff','#e3141e','#3ce63c','#9a55f0','#fcbb32'][datum.index]"},
               "stroke": {"signal": "['#1a53ff','#e3141e','#3ce63c','#9a55f0','#fcbb32'][datum.index]"},
               "strokeDash": {"signal": "[[1,0],[4,2],[6,1.6,1,1.6],[1.2,1.8],[1,0]][datum.index]"},
               "strokeWidth": {"value": 1.5}, "opacity": {"value": 1}}}}}},
           "strokeDash": {"field": "s", "type": "nominal", "scale": {"domain": ["Mistral-7B Inst. v0.2", "Mixtral-8x7B Inst. v0.1"], "range": [[1, 0], [5.5, 2.4]]}}
         }},
        {"transform": [{"filter": "datum.s == 'Mistral-7B Inst. v0.2'"}], "mark": {"type": "point", "shape": "square", "filled": true, "color": "#1a53ff", "stroke": "#1a53ff", "size": 40, "opacity": 1, "strokeWidth": 1, "clip": true}},
        {"transform": [{"filter": "datum.s == 'Mixtral-8x7B Inst. v0.1'"}], "mark": {"type": "point", "shape": "triangle-up", "filled": true, "color": "#e3141e", "stroke": "#e3141e", "size": 40, "opacity": 1, "strokeWidth": 1, "clip": true}}
      ]
    },
    {
      "title": "Qwen 1.5 Series", "width": 157, "height": 151, "data": {"name": "qwen"},
      "encoding": {
        "x": {"field": "i", "type": "quantitative", "scale": {"domain": [-0.85, 17.85], "nice": false, "zero": false}, "axis": {"values": [0, 7, 14], "labelExpr": "datum.value == 0 ? '920 / 2' : datum.value == 7 ? '1020 / 9' : '1120 / 16'", "title": "Context Length / Needle Count"}},
        "y": {"field": "v", "type": "quantitative", "scale": {"domain": [0, 100], "nice": false}, "axis": {"values": [20, 40, 60, 80], "labels": false, "title": null}}
      },
      "layer": [
        {"mark": {"type": "line", "strokeWidth": 1.5, "clip": true},
         "encoding": {
           "stroke": {"field": "s", "type": "nominal", "scale": {"domain": ["Qwen-1.5-0.5B", "Qwen-1.5-1.8B", "Qwen-1.5-4B", "Qwen-1.5-14B-vLLM", "Qwen-1.5-72B-vLLM"], "range": ["#1a53ff", "#e3141e", "#3ce63c", "#9a55f0", "#fcbb32"]},
             "legend": {"orient": "top-right", "title": null, "encode": {"symbols": {"update": {
               "shape": {"signal": "['M-2,0H2M-0.6,-0.6H0.6V0.6H-0.6Z','M-2,0H2M0,-0.75L0.7,0.5H-0.7Z','M-2,0H2M0,-0.8L0.8,0L0,0.8L-0.8,0Z','M-2,0H2M0,0.75L0.7,-0.5H-0.7Z','M-2,0H2M-0.75,0L0.5,-0.7V0.7Z'][datum.index]"},
               "fill": {"signal": "['#1a53ff','#e3141e','#3ce63c','#9a55f0','#fcbb32'][datum.index]"},
               "stroke": {"signal": "['#1a53ff','#e3141e','#3ce63c','#9a55f0','#fcbb32'][datum.index]"},
               "strokeDash": {"signal": "[[1,0],[4,2],[6,1.6,1,1.6],[1.2,1.8],[1,0]][datum.index]"},
               "strokeWidth": {"value": 1.5}, "opacity": {"value": 1}}}}}},
           "strokeDash": {"field": "s", "type": "nominal", "scale": {"domain": ["Qwen-1.5-0.5B", "Qwen-1.5-1.8B", "Qwen-1.5-4B", "Qwen-1.5-14B-vLLM", "Qwen-1.5-72B-vLLM"], "range": [[1, 0], [5.5, 2.4], [9.6, 2.4, 1.5, 2.4], [1.5, 2.5], [1, 0]]}}
         }},
        {"transform": [{"filter": "datum.s == 'Qwen-1.5-0.5B'"}], "mark": {"type": "point", "shape": "square", "filled": true, "color": "#1a53ff", "stroke": "#1a53ff", "size": 40, "opacity": 1, "strokeWidth": 1, "clip": true}},
        {"transform": [{"filter": "datum.s == 'Qwen-1.5-1.8B'"}], "mark": {"type": "point", "shape": "triangle-up", "filled": true, "color": "#e3141e", "stroke": "#e3141e", "size": 40, "opacity": 1, "strokeWidth": 1, "clip": true}},
        {"transform": [{"filter": "datum.s == 'Qwen-1.5-4B'"}], "mark": {"type": "point", "shape": "diamond", "filled": true, "color": "#3ce63c", "stroke": "#3ce63c", "size": 40, "opacity": 1, "strokeWidth": 1, "clip": true}},
        {"transform": [{"filter": "datum.s == 'Qwen-1.5-14B-vLLM'"}], "mark": {"type": "point", "shape": "triangle-down", "filled": true, "color": "#9a55f0", "stroke": "#9a55f0", "size": 40, "opacity": 1, "strokeWidth": 1, "clip": true}},
        {"transform": [{"filter": "datum.s == 'Qwen-1.5-72B-vLLM'"}], "mark": {"type": "point", "shape": "triangle-left", "filled": true, "color": "#fcbb32", "stroke": "#fcbb32", "size": 40, "opacity": 1, "strokeWidth": 1, "clip": true}}
      ]
    },
    {
      "title": "Yi Series", "width": 157, "height": 151, "data": {"name": "yi"},
      "encoding": {
        "x": {"field": "i", "type": "quantitative", "scale": {"domain": [-0.85, 17.85], "nice": false, "zero": false}, "axis": {"values": [0, 7, 14], "labelExpr": "datum.value == 0 ? '920 / 2' : datum.value == 7 ? '1020 / 9' : '1120 / 16'", "title": "Context Length / Needle Count"}},
        "y": {"field": "v", "type": "quantitative", "scale": {"domain": [0, 100], "nice": false}, "axis": {"values": [20, 40, 60, 80], "labels": false, "title": null}}
      },
      "layer": [
        {"mark": {"type": "line", "strokeWidth": 1.5, "clip": true},
         "encoding": {
           "stroke": {"field": "s", "type": "nominal", "scale": {"domain": ["Yi-6B", "OrionStar-Yi-34B", "Yi-34B"], "range": ["#1a53ff", "#e3141e", "#3ce63c"]},
             "legend": {"orient": "top-right", "title": null, "encode": {"symbols": {"update": {
               "shape": {"signal": "['M-2,0H2M-0.6,-0.6H0.6V0.6H-0.6Z','M-2,0H2M0,-0.75L0.7,0.5H-0.7Z','M-2,0H2M0,-0.8L0.8,0L0,0.8L-0.8,0Z','M-2,0H2M0,0.75L0.7,-0.5H-0.7Z','M-2,0H2M-0.75,0L0.5,-0.7V0.7Z'][datum.index]"},
               "fill": {"signal": "['#1a53ff','#e3141e','#3ce63c','#9a55f0','#fcbb32'][datum.index]"},
               "stroke": {"signal": "['#1a53ff','#e3141e','#3ce63c','#9a55f0','#fcbb32'][datum.index]"},
               "strokeDash": {"signal": "[[1,0],[4,2],[6,1.6,1,1.6],[1.2,1.8],[1,0]][datum.index]"},
               "strokeWidth": {"value": 1.5}, "opacity": {"value": 1}}}}}},
           "strokeDash": {"field": "s", "type": "nominal", "scale": {"domain": ["Yi-6B", "OrionStar-Yi-34B", "Yi-34B"], "range": [[1, 0], [5.5, 2.4], [9.6, 2.4, 1.5, 2.4]]}}
         }},
        {"transform": [{"filter": "datum.s == 'Yi-6B'"}], "mark": {"type": "point", "shape": "square", "filled": true, "color": "#1a53ff", "stroke": "#1a53ff", "size": 40, "opacity": 1, "strokeWidth": 1, "clip": true}},
        {"transform": [{"filter": "datum.s == 'OrionStar-Yi-34B'"}], "mark": {"type": "point", "shape": "triangle-up", "filled": true, "color": "#e3141e", "stroke": "#e3141e", "size": 40, "opacity": 1, "strokeWidth": 1, "clip": true}},
        {"transform": [{"filter": "datum.s == 'Yi-34B'"}], "mark": {"type": "point", "shape": "diamond", "filled": true, "color": "#3ce63c", "stroke": "#3ce63c", "size": 40, "opacity": 1, "strokeWidth": 1, "clip": true}}
      ]
    },
    {
      "title": "Prompt Length in ATC", "width": 157, "height": 151, "data": {"name": "prompt"},
      "encoding": {
        "x": {"field": "n", "type": "quantitative", "scale": {"domain": [-2.9, 104.9], "nice": false, "zero": false}, "axis": {"values": [0, 25, 50, 75, 100], "title": "Needle Count", "titleFontWeight": "normal", "titleFontSize": 10}},
        "y": {"field": "t", "type": "quantitative", "scale": {"domain": [755, 4115], "nice": false, "zero": false}, "axis": {"values": [1000, 1500, 2000, 2500, 3000, 3500, 4000], "format": "d", "title": "Average Token Length"}}
      },
      "layer": [
        {"mark": {"type": "line", "strokeWidth": 1.5, "clip": true},
         "encoding": {
           "stroke": {"field": "s", "type": "nominal", "scale": {"domain": ["English", "Chinese"], "range": ["#1a53ff", "#e3141e"]},
             "legend": {"orient": "top-left", "title": null, "encode": {"symbols": {"update": {
               "shape": {"value": "M-2,0H2"},
               "stroke": {"signal": "['#1a53ff','#e3141e'][datum.index]"},
               "strokeDash": {"signal": "[[1,0],[4,2]][datum.index]"},
               "strokeWidth": {"value": 1.5}, "opacity": {"value": 1}}}}}},
           "strokeDash": {"field": "s", "type": "nominal", "scale": {"domain": ["English", "Chinese"], "range": [[1, 0], [5.5, 2.4]]}}
         }}
      ]
    }
  ]
}
